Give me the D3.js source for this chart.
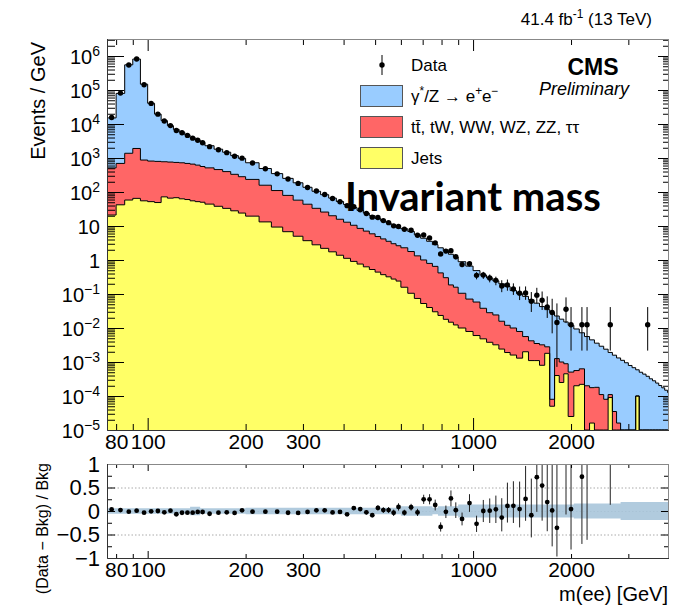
<!DOCTYPE html>
<html>
<head>
<meta charset="utf-8">
<script src="https://cdn.jsdelivr.net/npm/d3@7"></script>
<style>
  body { margin: 0; background: #fff; }
  svg { display: block; font-family: 'Liberation Sans', Arial, Helvetica, sans-serif; }
</style>
</head>
<body>
<svg id="chart" width="683" height="605"></svg>
<script>
// bin edges in GeV (variable binning)
const binEdges = [75, 80, 85, 90, 95, 100, 105, 110, 115, 120, 125, 130, 135, 140, 145, 150,
  160, 170, 180, 190, 200,
  220, 240, 260, 280, 300, 320, 340, 360, 380, 400, 420, 440, 460, 480, 500, 520, 540, 560, 580, 600,
  630, 660, 690, 720, 750, 780, 810, 840, 870, 900,
  950, 1000, 1050, 1100, 1150, 1200, 1250, 1300,
  1360, 1420, 1480, 1540, 1600, 1660, 1720, 1780, 1840, 1900, 1960,
  2040, 2120, 2200, 2280, 2360, 2440, 2520, 2600, 2680, 2760, 2840, 2920, 3000, 3080, 3160, 3240,
  3320, 3400, 3480, 3560, 3640, 3720, 3800, 3880, 3960, 4040];

// events / GeV, per bin
const jetsValues = [21, 42, 58, 65, 55, 52, 49, 72, 66, 68, 63, 60, 55, 52, 50, 44, 38, 33, 28, 24,
  19.5, 13.2, 9.3, 6.8, 5.0, 3.7, 2.8, 2.2, 1.74, 1.38, 1.12, 0.91, 0.76, 0.63, 0.525, 0.44, 0.37, 0.32, 0.275, 0.24,
  0.158, 0.105, 0.074, 0.0525, 0.040, 0.030, 0.0234, 0.018, 0.0148, 0.0123,
  0.010, 0.0079, 0.006, 0.0048, 0.0038, 0.0032, 0.0024, 0.0019,
  0.0016, 0.0013, 0.002, 0.0011, 0.0011, 0.0008, 0.0018, 0.00005, 0.0004, 0.00025, 0.00045,
  0.000025, 0.0002, 0.00022, 0, 0.000016, 0, 0, 0, 0.00009, 0, 0, 0, 0, 0, 0, 0.0001,
  0, 0, 0, 0, 0, 0, 0, 0, 0, 0];

const ewkValues = [490, 650, 1320, 1840, 816, 760, 745, 704, 693, 673, 661, 632, 606, 565, 512, 469, 419, 365, 303, 258,
  215, 145, 101, 72.6, 52.5, 40, 30.3, 23.5, 18.3, 14.4, 11.8, 9.6, 7.75, 6.45, 5.37, 4.46, 3.8, 3.23, 2.74, 2.39,
  2.13, 1.67, 1.25, 0.95, 0.754, 0.62, 0.394, 0.284, 0.17, 0.146,
  0.095, 0.063, 0.052, 0.0332, 0.0244, 0.021, 0.0134, 0.0101,
  0.0084, 0.0066, 0.0036, 0.0031, 0.0024, 0.0024, 0.001, 0.00003, 0.00086, 0.00075, 0.00044,
  0.00048, 0.00036, 0.00041, 0.0002, 0.00016, 0.00018, 0.00011, 0.00008, 0.00002, 0.000035, 0.000016,
  0, 0, 0, 0, 0, 0, 0, 0, 0, 0, 0, 0, 0, 0, 0];

const dyValues = [14600, 78700, 548600, 811000, 147000, 39900, 18700, 11800, 8150, 6180, 5030, 4100, 3320, 2770, 2320, 1780, 1360, 1080, 844, 695,
  490, 332, 237, 172, 129, 94, 72, 57.5, 46.1, 36.7, 29.8, 24.2, 20.3, 16.9, 14.1, 11.7, 9.95, 8.75, 7.48, 6.28,
  6.03, 5.14, 4.18, 3.37, 2.76, 2.18, 1.87, 1.56, 1.29, 1.07,
  0.786, 0.59, 0.429, 0.325, 0.267, 0.219, 0.184, 0.154,
  0.116, 0.094, 0.0795, 0.0634, 0.0502, 0.0395, 0.0319, 0.0281, 0.0213, 0.0172, 0.0142,
  0.0115, 0.0088, 0.0066, 0.0054, 0.0043, 0.0034, 0.0028, 0.0023, 0.0018, 0.00155, 0.0013, 0.00112, 0.00095,
  0.00079, 0.00068, 0.00049, 0.0005, 0.00044, 0.00038, 0.00032, 0.00028, 0.00024, 0.000204, 0.000174, 0.000148, 0.000126];

// observed events / GeV, null = empty bin
const dataValues = [15600, 81000, 542000, 819000, 142700, 40400, 19500, 12220, 8970, 6440, 5540, 4620, 3840, 3320, 2820, 2160, 1754, 1436, 1128, 991,
  714, 483, 342, 242, 179, 135, 106.5, 84.4, 64.1, 51.5, 39.7, 36.9, 30.0, 23.3, 18.2, 17.7, 14.4, 12.55, 10.1, 9.68,
  8.02, 7.47, 5.34, 5.46, 4.44, 3.19, 1.51, 1.83, 1.87, 1.25,
  0.74, 0.773, 0.354, 0.363, 0.297, 0.252, 0.172, 0.184,
  0.14, 0.106, 0.107, 0.0615, 0.0924, 0.0658, 0.0413, 0.0285, 0.0145, null, 0.0355,
  0.0125, null, 0.0125, 0.0125, null, null, null, null, 0.0125, null, null, null, null, null, null, null, null, null,
  0.0125, null, null, null, null, null, null, null];

// relative background uncertainty (ratio band)
const bkgUncert = [0.06, 0.06, 0.06, 0.06, 0.06, 0.06, 0.06, 0.06, 0.06, 0.06, 0.06, 0.06, 0.09, 0.09, 0.06, 0.06, 0.06, 0.06, 0.06, 0.06,
  0.07, 0.07, 0.07, 0.07, 0.07, 0.07, 0.07, 0.07, 0.07, 0.07, 0.07, 0.07, 0.07, 0.07, 0.07, 0.07, 0.07, 0.07, 0.07, 0.07,
  0.10, 0.10, 0.10, 0.10, 0.10, 0.07, 0.10, 0.10, 0.10, 0.10,
  0.14, 0.14, 0.14, 0.14, 0.14, 0.14, 0.14, 0.14,
  0.14, 0.14, 0.14, 0.14, 0.14, 0.14, 0.14, 0.14, 0.14, 0.14, 0.14,
  0.14, 0.16, 0.16, 0.16, 0.16, 0.16, 0.16, 0.16, 0.16, 0.16, 0.16, 0.19, 0.19, 0.19, 0.19, 0.19,
  0.19, 0.19, 0.19, 0.19, 0.19, 0.19, 0.19, 0.19, 0.19, 0.19];

const xMajorTicks = [100, 1000];
const xMinorTicks = [80, 90, 200, 300, 400, 500, 600, 700, 800, 900, 2000, 3000];
const xTickLabels = [80, 100, 200, 300, 1000, 2000];
const yDecadeTicks = [1e-5, 1e-4, 1e-3, 1e-2, 1e-1, 1, 10, 1e2, 1e3, 1e4, 1e5, 1e6];
const ratioMajorTicks = [-1, -0.5, 0, 0.5, 1];
const ratioMinorTicks = [-0.75, -0.25, 0.25, 0.75];
const ratioGrid = [-0.5, 0, 0.5];

// Garwood 68% intervals for small counts
const garwoodLow = [0, 0.827, 1.292, 1.633, 1.914, 2.159, 2.380, 2.581, 2.768, 2.943, 3.108];
const garwoodHigh = [1.841, 2.300, 2.638, 2.918, 3.162, 3.382, 3.583, 3.770, 3.944, 4.110, 4.266];

const colors = { dy: '#99ccff', ewk: '#ff6666', jets: '#ffff66' };
const font = "'Liberation Sans', Arial, Helvetica, sans-serif";

const plot = { left: 107, right: 669, top: 39, bottom: 430 };
const rbox = { top: 464, bottom: 558 };

const svg = d3.select('#chart');

const x = d3.scaleLog().domain([75, 4000]).range([plot.left, plot.right]);
const y = d3.scaleLog().domain([1e-5, Math.pow(10, 6.5)]).range([plot.bottom, plot.top]).clamp(true);
const yr = d3.scaleLinear().domain([-1, 1]).range([rbox.bottom, rbox.top]);
const yv = v => y(Math.max(v, 1e-9));

const bins = binEdges.slice(0, -1).map((lo, i) => ({
  lo: lo, hi: binEdges[i + 1], w: binEdges[i + 1] - lo,
  jets: jetsValues[i], ewk: ewkValues[i], dy: dyValues[i],
  data: dataValues[i], unc: bkgUncert[i]
}));
bins.forEach(b => { b.bkg = b.jets + b.ewk + b.dy; });

// clip paths
const defs = svg.append('defs');
defs.append('clipPath').attr('id', 'clipTop').append('rect')
  .attr('x', plot.left).attr('y', plot.top)
  .attr('width', plot.right - plot.left).attr('height', plot.bottom - plot.top);
defs.append('clipPath').attr('id', 'clipRatio').append('rect')
  .attr('x', plot.left).attr('y', rbox.top)
  .attr('width', plot.right - plot.left).attr('height', rbox.bottom - rbox.top);

// ---- upper panel: stacked histograms
const keys = ['jets', 'ewk', 'dy'];
const series = d3.stack().keys(keys)(bins);

function stepPoints(layer) {
  const pts = [];
  layer.forEach((d, i) => {
    pts.push({ m: bins[i].lo, y0: d[0], y1: d[1] });
    pts.push({ m: bins[i].hi, y0: d[0], y1: d[1] });
  });
  return pts;
}
const area = d3.area().x(p => x(p.m)).y0(p => yv(p.y0)).y1(p => yv(p.y1));
const topLine = d3.line().x(p => x(p.m)).y(p => yv(p.y1));

const hist = svg.append('g').attr('clip-path', 'url(#clipTop)');
series.forEach(s => {
  hist.append('path').attr('d', area(stepPoints(s))).attr('fill', colors[s.key]).attr('stroke', 'none');
});
series.forEach(s => {
  hist.append('path').attr('d', topLine(stepPoints(s)))
    .attr('fill', 'none').attr('stroke', '#000').attr('stroke-width', 1);
});

// data points
function poissonErr(n) {
  if (n < 10.5) {
    const k = Math.round(n);
    return [garwoodLow[k], garwoodHigh[k]];
  }
  const s = Math.sqrt(n);
  return [s, s];
}
const points = bins.filter(b => b.data != null).map(b => {
  const n = b.data * b.w;
  const e = poissonErr(n);
  return {
    m: (b.lo + b.hi) / 2, v: b.data,
    lo: (n - e[0]) / b.w, hi: (n + e[1]) / b.w,
    r: b.data / b.bkg - 1,
    rlo: (n - e[0]) / b.w / b.bkg - 1,
    rhi: (n + e[1]) / b.w / b.bkg - 1
  };
});

const dataG = svg.append('g').attr('clip-path', 'url(#clipTop)');
dataG.selectAll('line.err').data(points).enter().append('line')
  .attr('x1', d => x(d.m)).attr('x2', d => x(d.m))
  .attr('y1', d => yv(d.lo)).attr('y2', d => yv(d.hi))
  .attr('stroke', '#000').attr('stroke-width', 1);
dataG.selectAll('circle').data(points).enter().append('circle')
  .attr('cx', d => x(d.m)).attr('cy', d => yv(d.v)).attr('r', 2.7).attr('fill', '#000');

// axes helper (ticks only)
function ticks(axisFn, scale, values, size, tx, ty) {
  svg.append('g').attr('transform', `translate(${tx},${ty})`)
    .call(axisFn(scale).tickValues(values).tickSize(size).tickFormat(''))
    .call(g => g.select('.domain').remove())
    .call(g => g.selectAll('line').attr('stroke', '#000'));
}

const yMinor = y.ticks(40).filter(v => Math.abs(Math.log10(v) - Math.round(Math.log10(v))) > 1e-6);

ticks(d3.axisLeft, y, yDecadeTicks, -17, plot.left, 0);
ticks(d3.axisLeft, y, yMinor, -8, plot.left, 0);
ticks(d3.axisRight, y, yDecadeTicks, -11, plot.right, 0);
ticks(d3.axisRight, y, yMinor, -6, plot.right, 0);
ticks(d3.axisBottom, x, xMajorTicks, -12, 0, plot.bottom);
ticks(d3.axisBottom, x, xMinorTicks, -6, 0, plot.bottom);
ticks(d3.axisTop, x, xMajorTicks, -12, 0, plot.top);
ticks(d3.axisTop, x, xMinorTicks, -6, 0, plot.top);

// frame
svg.append('rect').attr('x', plot.left + 0.5).attr('y', plot.top + 0.5)
  .attr('width', plot.right - plot.left - 1).attr('height', plot.bottom - plot.top)
  .attr('fill', 'none').attr('stroke', '#888');
svg.append('path').attr('d', `M${plot.left + 0.5},${plot.top}V${plot.bottom + 0.5}H${plot.right}`)
  .attr('fill', 'none').attr('stroke', '#333');

// y labels with exponents
const yLab = svg.append('g').attr('transform', `translate(${plot.left},0)`)
  .call(d3.axisLeft(y).tickValues(yDecadeTicks).tickSize(0).tickPadding(7).tickFormat(''));
yLab.select('.domain').remove();
yLab.selectAll('text').each(function (v) {
  const t = d3.select(this).attr('font-size', 20).attr('font-family', font).attr('fill', '#000').attr('dy', '0.36em');
  const e = Math.round(Math.log10(v));
  if (e === 0) { t.text('1'); return; }
  if (e === 1) { t.text('10'); return; }
  t.append('tspan').text('10');
  t.append('tspan').attr('dy', -8).attr('font-size', 14).text(e < 0 ? '\u2212' + (-e) : String(e));
});

// x labels upper and lower
function xLabels(ty) {
  const g = svg.append('g').attr('transform', `translate(0,${ty})`)
    .call(d3.axisBottom(x).tickValues(xTickLabels).tickSize(0).tickPadding(4).tickFormat(d3.format('d')));
  g.select('.domain').remove();
  g.selectAll('text').attr('font-size', 21).attr('font-family', font).attr('fill', '#000');
}
xLabels(plot.bottom);
xLabels(rbox.bottom);

// ---- ratio panel
const rg = svg.append('g').attr('clip-path', 'url(#clipRatio)');
rg.selectAll('line.grid').data(ratioGrid).enter().append('line')
  .attr('x1', plot.left).attr('x2', plot.right)
  .attr('y1', d => yr(d) + 0.5).attr('y2', d => yr(d) + 0.5)
  .attr('stroke', '#aaa').attr('stroke-width', 1).attr('stroke-dasharray', '1.5,2');

const bandPts = [];
bins.forEach(b => {
  bandPts.push({ m: b.lo, u: b.unc });
  bandPts.push({ m: b.hi, u: b.unc });
});
rg.append('path')
  .attr('d', d3.area().x(p => x(p.m)).y0(p => yr(-p.u)).y1(p => yr(p.u))(bandPts))
  .attr('fill', '#a9c5da').attr('opacity', 0.9);

const rpts = points.filter(d => isFinite(d.r));
rg.selectAll('line.rerr').data(rpts).enter().append('line')
  .attr('x1', d => x(d.m)).attr('x2', d => x(d.m))
  .attr('y1', d => yr(Math.max(d.rlo, -1.2))).attr('y2', d => yr(Math.min(d.rhi, 1.2)))
  .attr('stroke', '#222').attr('stroke-width', 1);
rg.selectAll('circle').data(rpts).enter().append('circle')
  .attr('cx', d => x(d.m)).attr('cy', d => yr(Math.min(d.r, 1.5))).attr('r', 2.4).attr('fill', '#000');

ticks(d3.axisLeft, yr, ratioMajorTicks, -8, plot.left, 0);
ticks(d3.axisLeft, yr, ratioMinorTicks, -5, plot.left, 0);
ticks(d3.axisRight, yr, ratioMajorTicks, -8, plot.right, 0);
ticks(d3.axisRight, yr, ratioMinorTicks, -5, plot.right, 0);
ticks(d3.axisBottom, x, xMajorTicks, -7, 0, rbox.bottom);
ticks(d3.axisBottom, x, xMinorTicks, -4, 0, rbox.bottom);
ticks(d3.axisTop, x, xMajorTicks, -7, 0, rbox.top);
ticks(d3.axisTop, x, xMinorTicks, -4, 0, rbox.top);

svg.append('rect').attr('x', plot.left + 0.5).attr('y', rbox.top + 0.5)
  .attr('width', plot.right - plot.left - 1).attr('height', rbox.bottom - rbox.top)
  .attr('fill', 'none').attr('stroke', '#888');
svg.append('path').attr('d', `M${plot.left + 0.5},${rbox.top}V${rbox.bottom + 0.5}H${plot.right}`)
  .attr('fill', 'none').attr('stroke', '#333');

const rLab = svg.append('g').attr('transform', `translate(${plot.left},0)`)
  .call(d3.axisLeft(yr).tickValues(ratioMajorTicks).tickSize(0).tickPadding(7)
    .tickFormat(d => d === 0 ? '0' : (d < 0 ? '\u2212' : '') + Math.abs(d)));
rLab.select('.domain').remove();
rLab.selectAll('text').attr('font-size', 22).attr('font-family', font).attr('fill', '#000');

// ---- texts
function rich(sel, parts, fs) {
  parts.forEach(p => {
    const t = sel.append('tspan').text(p[0]);
    if (p[1] === 'sup') t.attr('dy', -0.42 * fs).attr('font-size', fs * 0.7);
    if (p[1] === 'back') t.attr('dy', 0.42 * fs);
  });
}

svg.append('text').attr('transform', 'translate(45,42) rotate(-90)')
  .attr('text-anchor', 'end').attr('font-size', 20).text('Events / GeV');
svg.append('text').attr('transform', 'translate(48,463) rotate(-90)')
  .attr('text-anchor', 'end').attr('font-size', 16).text('(Data \u2212 Bkg) / Bkg');
svg.append('text').attr('x', 668).attr('y', 601)
  .attr('text-anchor', 'end').attr('font-size', 20).text('m(ee) [GeV]');

const lumi = svg.append('text').attr('x', 652).attr('y', 25).attr('text-anchor', 'end').attr('font-size', 17);
rich(lumi, [['41.4 fb'], ['-1', 'sup'], [' (13 TeV)', 'back']], 17);

svg.append('text').attr('x', 593).attr('y', 75).attr('text-anchor', 'middle')
  .attr('font-size', 23).attr('font-weight', 'bold').text('CMS');
svg.append('text').attr('x', 584).attr('y', 95).attr('text-anchor', 'middle')
  .attr('font-size', 18).attr('font-style', 'italic').text('Preliminary');

// legend
const lg = svg.append('g');
lg.append('line').attr('x1', 382).attr('x2', 382).attr('y1', 55).attr('y2', 75).attr('stroke', '#000');
lg.append('circle').attr('cx', 382).attr('cy', 65).attr('r', 2.7).attr('fill', '#000');
lg.append('text').attr('x', 411).attr('y', 71).attr('font-size', 17).text('Data');

const legendRows = [
  { key: 'dy', y: 85 },
  { key: 'ewk', y: 116 },
  { key: 'jets', y: 147 }
];
legendRows.forEach(r => {
  lg.append('rect').attr('x', 360.5).attr('y', r.y + 0.5).attr('width', 42).attr('height', 21)
    .attr('fill', colors[r.key]).attr('stroke', '#555');
});
const l1 = lg.append('text').attr('x', 411).attr('y', 102).attr('font-size', 17);
rich(l1, [['\u03b3'], ['*', 'sup'], ['/Z \u2192 e', 'back'], ['+', 'sup'], ['e', 'back'], ['\u2212', 'sup']], 17);
lg.append('text').attr('x', 411).attr('y', 133).attr('font-size', 17)
  .text('t\u0074\u0304, tW, WW, WZ, ZZ, \u03c4\u03c4');
lg.append('text').attr('x', 411).attr('y', 164).attr('font-size', 17).text('Jets');

// overlay title
svg.append('text').attr('x', 345).attr('y', 211)
  .attr('font-family', 'Lato, "Open Sans", sans-serif').attr('font-weight', 'bold')
  .attr('font-size', 40).attr('fill', '#000').text('Invariant mass');
</script>
</body>
</html>
